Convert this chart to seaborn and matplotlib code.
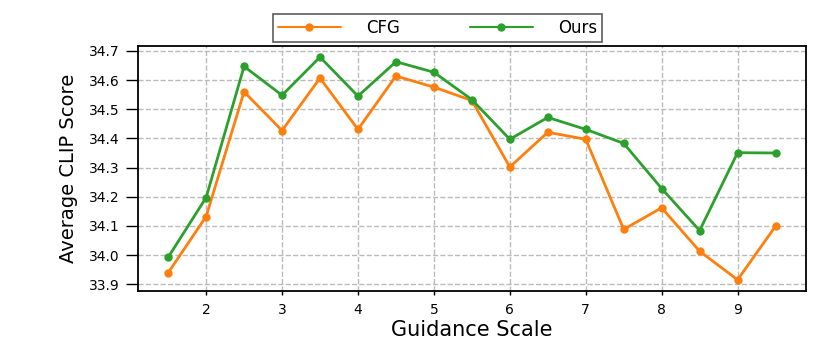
import seaborn as sns
import matplotlib.pyplot as plt
import pandas as pd

guidance = [1.5, 2.0, 2.5, 3.0, 3.5, 4.0, 4.5, 5.0, 5.5, 6.0, 6.5, 7.0, 7.5, 8.0, 8.5, 9.0, 9.5]
cfg = [33.939, 34.132, 34.560, 34.427, 34.607, 34.431, 34.614, 34.576, 34.530,
       34.302, 34.421, 34.397, 34.088, 34.162, 34.013, 33.915, 34.099]
ours = [33.992, 34.197, 34.647, 34.548, 34.679, 34.545, 34.663, 34.627, 34.533,
        34.397, 34.472, 34.431, 34.383, 34.228, 34.084, 34.351, 34.350]
methods = ['CFG', 'Ours']
colors = ['#ff7f0e', '#2ca02c']

df = pd.DataFrame({'Guidance Scale': guidance, 'CFG': cfg, 'Ours': ours})
df_melted = pd.melt(df, id_vars=['Guidance Scale'], var_name='Method', value_name='Score')

sns.set_style('white')
plt.rcParams['font.family'] = ['DejaVu Sans']
plt.rcParams['text.color'] = 'black'
plt.rcParams['axes.labelcolor'] = 'black'
plt.rcParams['xtick.color'] = 'black'
plt.rcParams['ytick.color'] = 'black'

fig = plt.figure(figsize=(8.3, 3.48), dpi=100)
ax = fig.add_axes([0.166, 0.164, 0.805, 0.704])

sns.lineplot(data=df_melted, x='Guidance Scale', y='Score', hue='Method',
             hue_order=methods, palette=colors, marker='o', markersize=6,
             markeredgewidth=0, linewidth=2, ax=ax, legend=False)

ax.set_xticks([2, 3, 4, 5, 6, 7, 8, 9])
ax.set_yticks([33.9, 34.0, 34.1, 34.2, 34.3, 34.4, 34.5, 34.6, 34.7])
ax.set_yticklabels(['33.9', '34.0', '34.1', '34.2', '34.3', '34.4', '34.5', '34.6', '34.7'])
ax.grid(True, linestyle='--', color='#bbbbbb', linewidth=1)
ax.tick_params(axis='y', direction='out', length=9, width=1, pad=4, labelsize=10, left=True)
ax.tick_params(axis='x', direction='out', length=3, width=1, pad=6, labelsize=10, bottom=True)
for s in ax.spines.values():
    s.set_color('black')
    s.set_linewidth(1.3)

ax.set_xlabel('Guidance Scale', fontsize=15, labelpad=2)
ax.set_ylabel('Average CLIP Score', fontsize=14, labelpad=8)

handles = [plt.Line2D([], [], color=c, marker='o', markersize=6, markeredgewidth=0, linewidth=1.5)
           for c in colors]
leg = fig.legend(handles, methods, loc='center', bbox_to_anchor=(0.527, 0.92), ncol=2,
                 fontsize=12, frameon=True, fancybox=False, edgecolor='#333333',
                 handlelength=3.8, handletextpad=1.5, columnspacing=4.2, borderpad=0.3)
leg.get_frame().set_linewidth(1.2)

plt.savefig('out.png', dpi=100)
